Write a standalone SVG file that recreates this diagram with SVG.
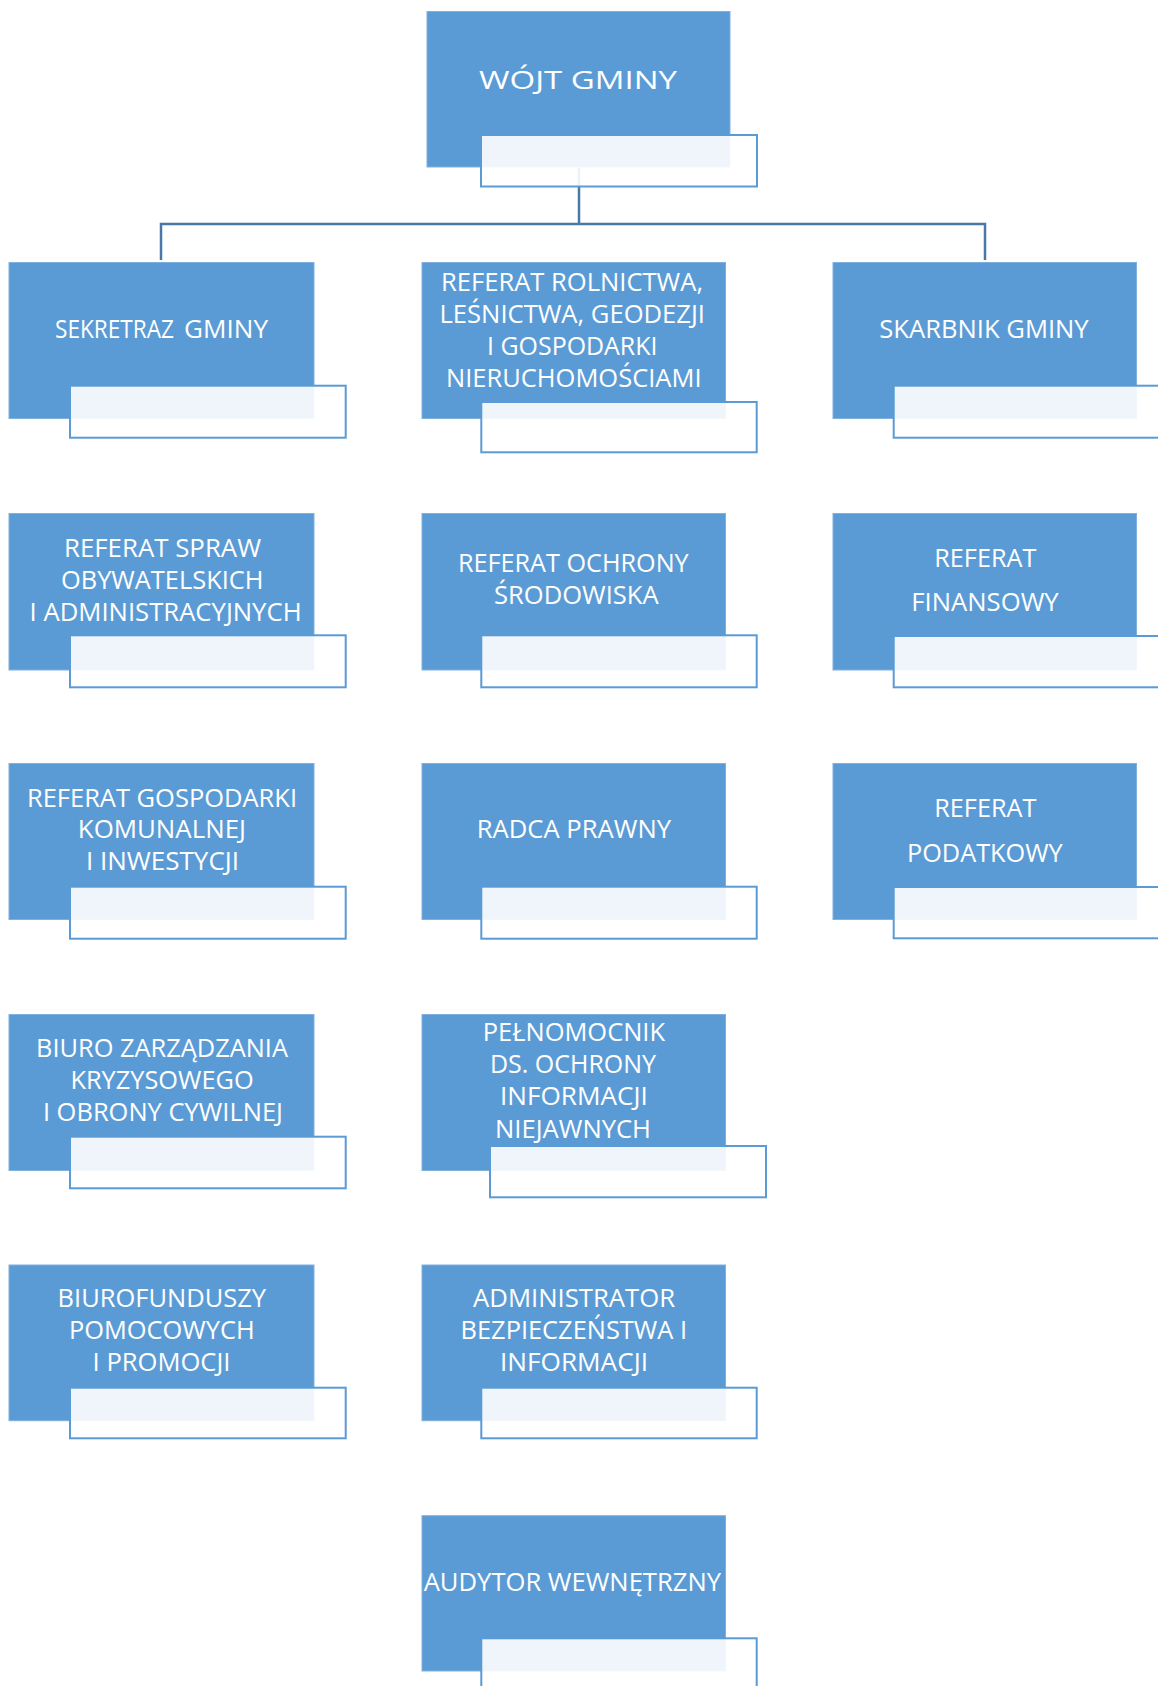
<svg xmlns="http://www.w3.org/2000/svg" width="1158" height="1686" viewBox="0 0 1158 1686">
<style>
.box{fill:#5B9BD5;stroke:#7FB0DE;stroke-width:1}
.sub{fill:#FFFFFF;fill-opacity:0.9;stroke:#5B9BD5;stroke-width:2}
.conn{fill:none;stroke:#4A78A6;stroke-width:2.5}
text{font-family:"Open Sans","Noto Sans","DejaVu Sans",sans-serif;fill:#FFFFFF;font-size:25px}
</style>
<rect width="1158" height="1686" fill="#FFFFFF"/>
<g id="connectors">
<path class="conn" d="M579,168 V224 M161,260 V224 H985 V260"/>
</g>
<g id="wojt">
<rect class="box" x="427" y="11.5" width="303" height="155.5"/>
<text x="479" y="89.3" font-size="31" textLength="198" lengthAdjust="spacingAndGlyphs">WÓJT GMINY</text>
<rect class="sub" x="481" y="135" width="276" height="51.5"/>
</g>
<g id="sekretarz">
<rect class="box" x="9" y="262.5" width="305" height="156"/>
<text x="55" y="338.3" font-size="23" textLength="119" lengthAdjust="spacingAndGlyphs">SEKRETRAZ</text>
<text x="184" y="338.3" font-size="25.5" textLength="84" lengthAdjust="spacingAndGlyphs">GMINY</text>
<rect class="sub" x="70" y="385.7" width="275.7" height="52"/>
</g>
<g id="referat-rolnictwa">
<rect class="box" x="422" y="262.5" width="303.5" height="156"/>
<text x="441" y="291" textLength="262" lengthAdjust="spacingAndGlyphs">REFERAT ROLNICTWA,</text>
<text x="439.5" y="323" textLength="265.5" lengthAdjust="spacingAndGlyphs">LEŚNICTWA, GEODEZJI</text>
<text x="487" y="355" textLength="170.5" lengthAdjust="spacingAndGlyphs">I GOSPODARKI</text>
<text x="446" y="387" textLength="255.5" lengthAdjust="spacingAndGlyphs">NIERUCHOMOŚCIAMI</text>
<rect class="sub" x="481.3" y="402" width="275.4" height="50.3"/>
</g>
<g id="skarbnik">
<rect class="box" x="833" y="262.5" width="303.5" height="156"/>
<text x="879.3" y="338.3" textLength="209.4" lengthAdjust="spacingAndGlyphs">SKARBNIK GMINY</text>
<rect class="sub" x="893.7" y="385.7" width="280" height="52"/>
</g>
<g id="referat-spraw">
<rect class="box" x="9" y="513.5" width="305" height="156.5"/>
<text x="64" y="557.3" textLength="197" lengthAdjust="spacingAndGlyphs">REFERAT SPRAW</text>
<text x="61" y="589.3" textLength="202.5" lengthAdjust="spacingAndGlyphs">OBYWATELSKICH</text>
<text x="29.6" y="620.7" textLength="272" lengthAdjust="spacingAndGlyphs">I ADMINISTRACYJNYCH</text>
<rect class="sub" x="70" y="635.3" width="275.7" height="52"/>
</g>
<g id="referat-ochrony">
<rect class="box" x="422" y="513.5" width="303.5" height="156.5"/>
<text x="458" y="572.3" textLength="230.7" lengthAdjust="spacingAndGlyphs">REFERAT OCHRONY</text>
<text x="494" y="604.3" textLength="164.6" lengthAdjust="spacingAndGlyphs">ŚRODOWISKA</text>
<rect class="sub" x="481.3" y="635.3" width="275.4" height="52"/>
</g>
<g id="referat-finansowy">
<rect class="box" x="833" y="513.5" width="303.5" height="156.5"/>
<text x="934.3" y="566.7" font-size="26" textLength="102" lengthAdjust="spacingAndGlyphs">REFERAT</text>
<text x="911.3" y="611" font-size="26" textLength="147.4" lengthAdjust="spacingAndGlyphs">FINANSOWY</text>
<rect class="sub" x="893.7" y="636" width="280" height="51.3"/>
</g>
<g id="referat-gospodarki">
<rect class="box" x="9" y="763.5" width="305" height="156"/>
<text x="27" y="806.7" textLength="270" lengthAdjust="spacingAndGlyphs">REFERAT GOSPODARKI</text>
<text x="77.8" y="838.3" textLength="168.2" lengthAdjust="spacingAndGlyphs">KOMUNALNEJ</text>
<text x="86" y="870" textLength="153" lengthAdjust="spacingAndGlyphs">I INWESTYCJI</text>
<rect class="sub" x="70" y="886.7" width="275.7" height="52"/>
</g>
<g id="radca-prawny">
<rect class="box" x="422" y="763.5" width="303.5" height="156"/>
<text x="476.8" y="838.3" textLength="194.2" lengthAdjust="spacingAndGlyphs">RADCA PRAWNY</text>
<rect class="sub" x="481.3" y="886.7" width="275.4" height="52"/>
</g>
<g id="referat-podatkowy">
<rect class="box" x="833" y="763.5" width="303.5" height="156"/>
<text x="934.3" y="816.7" font-size="26" textLength="102" lengthAdjust="spacingAndGlyphs">REFERAT</text>
<text x="907" y="861.7" font-size="26" textLength="155.7" lengthAdjust="spacingAndGlyphs">PODATKOWY</text>
<rect class="sub" x="893.7" y="887" width="280" height="51.3"/>
</g>
<g id="biuro-zarzadzania">
<rect class="box" x="9" y="1014.5" width="305" height="156"/>
<text x="36" y="1057.3" textLength="252" lengthAdjust="spacingAndGlyphs">BIURO ZARZĄDZANIA</text>
<text x="70.4" y="1089.3" textLength="183.3" lengthAdjust="spacingAndGlyphs">KRYZYSOWEGO</text>
<text x="42.9" y="1121" textLength="240" lengthAdjust="spacingAndGlyphs">I OBRONY CYWILNEJ</text>
<rect class="sub" x="70" y="1136.7" width="275.7" height="51.6"/>
</g>
<g id="pelnomocnik">
<rect class="box" x="422" y="1014.5" width="303.5" height="156"/>
<text x="482.8" y="1041" textLength="182.2" lengthAdjust="spacingAndGlyphs">PEŁNOMOCNIK</text>
<text x="490" y="1072.7" textLength="166" lengthAdjust="spacingAndGlyphs">DS. OCHRONY</text>
<text x="500" y="1105" textLength="147.8" lengthAdjust="spacingAndGlyphs">INFORMACJI</text>
<text x="495" y="1137.7" textLength="156" lengthAdjust="spacingAndGlyphs">NIEJAWNYCH</text>
<rect class="sub" x="490" y="1146" width="276" height="51.3"/>
</g>
<g id="biuro-funduszy">
<rect class="box" x="9" y="1265" width="305" height="155.7"/>
<text x="57.6" y="1307.3" textLength="208.4" lengthAdjust="spacingAndGlyphs">BIUROFUNDUSZY</text>
<text x="69" y="1339.3" textLength="185.7" lengthAdjust="spacingAndGlyphs">POMOCOWYCH</text>
<text x="92.6" y="1371" textLength="137.9" lengthAdjust="spacingAndGlyphs">I PROMOCJI</text>
<rect class="sub" x="70" y="1387.7" width="275.7" height="50.6"/>
</g>
<g id="administrator">
<rect class="box" x="422" y="1265" width="303.5" height="155.7"/>
<text x="473" y="1307.3" textLength="202" lengthAdjust="spacingAndGlyphs">ADMINISTRATOR</text>
<text x="460.6" y="1339.3" textLength="226.4" lengthAdjust="spacingAndGlyphs">BEZPIECZEŃSTWA I</text>
<text x="500" y="1371" textLength="148" lengthAdjust="spacingAndGlyphs">INFORMACJI</text>
<rect class="sub" x="481.3" y="1387.7" width="275.4" height="50.6"/>
</g>
<g id="audytor">
<rect class="box" x="422" y="1515.7" width="303.5" height="155.3"/>
<text x="423.7" y="1591" textLength="297.3" lengthAdjust="spacingAndGlyphs">AUDYTOR WEWNĘTRZNY</text>
<rect class="sub" x="481.3" y="1638.3" width="275.4" height="60"/>
</g>
</svg>
